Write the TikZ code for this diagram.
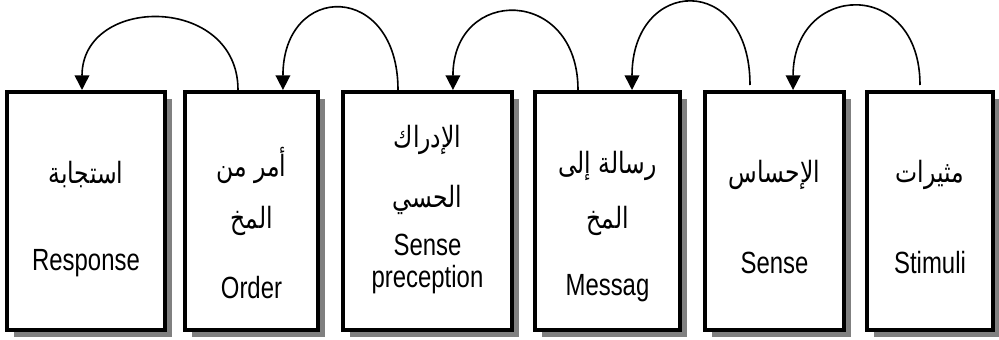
\documentclass[tikz,border=0pt]{standalone}
\usepackage{fontspec}
\setmainfont[FakeStretch=0.78]{Liberation Sans}
\newfontfamily\arabicfont[Script=Arabic, FakeStretch=0.8]{DejaVu Sans}
\TeXXeTstate=1
\usetikzlibrary{arrows.meta,shadows}
\definecolor{ink}{RGB}{0,0,0}
\definecolor{shade}{RGB}{128,128,128}
\tikzset{
  stagebox/.style={draw=ink, line width=3pt, fill=white, minimum height=178.5pt,
    inner sep=0pt, general shadow={fill=shade, shadow xshift=5pt, shadow yshift=-5pt}},
  loopflow/.style={-{Triangle[width=11pt, length=11pt]}, line width=1.2pt, draw=ink},
  entext/.style={font=\fontsize{23}{27}\selectfont, text=ink, inner sep=0pt},
  artext/.style={font=\arabicfont\fontsize{22}{26}\selectfont, text=ink, inner sep=0pt},
}
\newcommand{\ar}[1]{\beginR #1\endR}

\begin{document}
\begin{tikzpicture}
  \useasboundingbox (0,0) rectangle (749.25pt,254.25pt);

  % The six stages, from response on the left to stimuli on the right.
  \node[stagebox, minimum width=118.5pt] (resp) at (64.5pt,96pt) {};
  \node[stagebox, minimum width=99.75pt] (order) at (188.6pt,96pt) {};
  \node[stagebox, minimum width=126.75pt] (percep) at (320.6pt,96pt) {};
  \node[stagebox, minimum width=108.75pt] (msg) at (455.6pt,96pt) {};
  \node[stagebox, minimum width=104.25pt] (sense) at (580.9pt,96pt) {};
  \node[stagebox, minimum width=94.5pt] (stim) at (697.5pt,96pt) {};

  % Labels, Arabic above English.
  \node[artext] (resp-ar) at ([yshift=-63.75pt]resp.north) {\ar{استجابة}};
  \node[entext] (resp-en) at ([yshift=-129.75pt]resp.north) {Response};

  \node[artext] (order-ar1) at ([yshift=-56.25pt]order.north) {\ar{أمر من}};
  \node[artext] (order-ar2) at ([yshift=-98.25pt]order.north) {\ar{المخ}};
  \node[entext] (order-en) at ([yshift=-148.5pt]order.north) {Order};

  \node[artext] (percep-ar1) at ([yshift=-37.5pt]percep.north) {\ar{الإدراك}};
  \node[artext] (percep-ar2) at ([yshift=-82.5pt]percep.north) {\ar{الحسي}};
  \node[entext] (percep-en1) at ([yshift=-116.25pt]percep.north) {Sense};
  \node[entext] (percep-en2) at ([yshift=-142.5pt]percep.north) {preception};

  \node[artext] (msg-ar1) at ([yshift=-57pt]msg.north) {\ar{رسالة إلى}};
  \node[artext] (msg-ar2) at ([yshift=-98.25pt]msg.north) {\ar{المخ}};
  \node[entext] (msg-en) at ([yshift=-148.5pt]msg.north) {Messag};

  \node[artext] (sense-ar) at ([yshift=-63.75pt]sense.north) {\ar{الإحساس}};
  \node[entext] (sense-en) at ([yshift=-129.75pt]sense.north) {Sense};

  \node[artext] (stim-ar) at ([yshift=-63.75pt]stim.north) {\ar{مثيرات}};
  \node[entext] (stim-en) at ([yshift=-129.75pt]stim.north) {Stimuli};

  % Loops over the tops, each stage handing on to the one at its left.
  \draw[loopflow] ([xshift=-7.5pt,yshift=3.75pt]stim.north)
    to[out=90, in=90, looseness=2.17] ([xshift=13.9pt]sense.north);
  \draw[loopflow] ([xshift=-18.4pt,yshift=3.75pt]sense.north)
    to[out=90, in=90, looseness=2.45] ([xshift=18.4pt]msg.north);
  \draw[loopflow] ([xshift=-22.1pt]msg.north)
    to[out=90, in=90, looseness=2.13] ([xshift=19.1pt]percep.north);
  \draw[loopflow] ([xshift=-22.1pt]percep.north)
    to[out=90, in=90, looseness=2.42] ([xshift=23.6pt]order.north);
  \draw[loopflow] ([xshift=-10.1pt]order.north)
    to[out=90, in=90, looseness=1.57] ([xshift=-3pt]resp.north);

\end{tikzpicture}
\end{document}
